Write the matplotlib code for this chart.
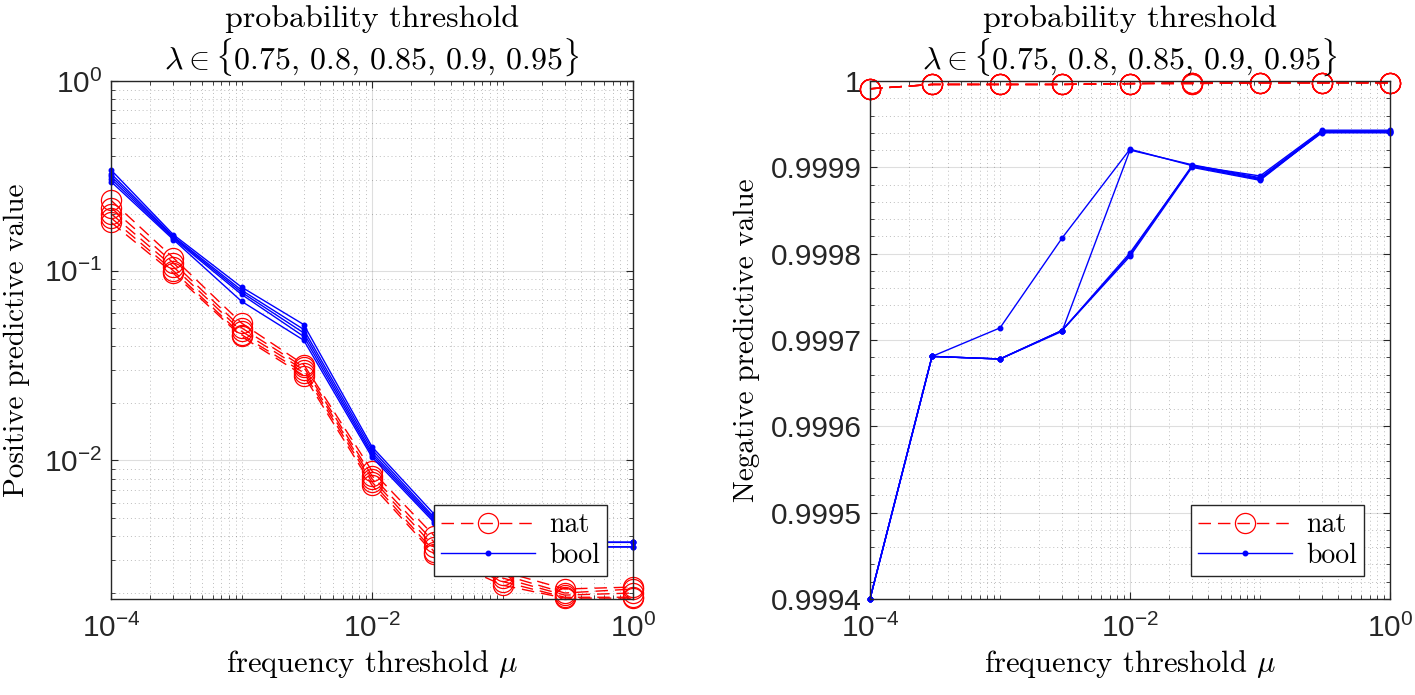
import numpy as np
import matplotlib
matplotlib.use("Agg")
import matplotlib.pyplot as plt
from matplotlib.ticker import LogLocator, MultipleLocator, FuncFormatter, NullFormatter

plt.rcParams['mathtext.fontset'] = 'custom'
plt.rcParams['mathtext.rm'] = 'Liberation Sans'
plt.rcParams['mathtext.it'] = 'Liberation Sans:italic'
plt.rcParams['font.family'] = 'Liberation Sans'

# frequency thresholds mu
mu = [1e-4, 3e-4, 1e-3, 3e-3, 1e-2, 3e-2, 1e-1, 3e-1, 1.0]
lambdas = [0.75, 0.8, 0.85, 0.9, 0.95]

# positive predictive value, one row per lambda
ppv_nat = [
    [0.235, 0.117, 0.053, 0.032, 0.0088, 0.0040, 0.0026, 0.00210, 0.00215],
    [0.215, 0.110, 0.050, 0.031, 0.0083, 0.0037, 0.0025, 0.00200, 0.00210],
    [0.200, 0.105, 0.048, 0.030, 0.0080, 0.0035, 0.0024, 0.00195, 0.00200],
    [0.190, 0.100, 0.046, 0.029, 0.0077, 0.0033, 0.0023, 0.00190, 0.00190],
    [0.180, 0.097, 0.045, 0.028, 0.0074, 0.0032, 0.0022, 0.00188, 0.00188],
]
ppv_bool = [
    [0.340, 0.155, 0.082, 0.052, 0.0118, 0.0052, 0.0039, 0.0037, 0.0037],
    [0.325, 0.152, 0.079, 0.049, 0.0114, 0.0050, 0.0038, 0.0037, 0.0037],
    [0.315, 0.150, 0.077, 0.047, 0.0110, 0.0049, 0.0038, 0.0037, 0.0037],
    [0.305, 0.148, 0.075, 0.045, 0.0107, 0.0048, 0.0037, 0.0035, 0.0035],
    [0.295, 0.146, 0.069, 0.043, 0.0104, 0.0047, 0.0036, 0.0035, 0.0035],
]

# negative predictive value, one row per lambda
npv_nat = [
    [0.999991, 0.999996, 0.999996, 0.999996, 0.999997, 0.999998, 0.999998, 0.999998, 0.999998],
    [0.999991, 0.999996, 0.999996, 0.999996, 0.999997, 0.999997, 0.999998, 0.999998, 0.999998],
    [0.999991, 0.999996, 0.999996, 0.999996, 0.999997, 0.999997, 0.999998, 0.999998, 0.999998],
    [0.999991, 0.999996, 0.999996, 0.999996, 0.999997, 0.999998, 0.999998, 0.999998, 0.999998],
    [0.999991, 0.999996, 0.999996, 0.999996, 0.999997, 0.999998, 0.999998, 0.999998, 0.999998],
]
npv_bool = [
    [0.99940, 0.999681, 0.999714, 0.999818, 0.999921, 0.999902, 0.999890, 0.999943, 0.999943],
    [0.99940, 0.999681, 0.999678, 0.999710, 0.999920, 0.999903, 0.999888, 0.999942, 0.999942],
    [0.99940, 0.999681, 0.999678, 0.999711, 0.999799, 0.999902, 0.999887, 0.999940, 0.999940],
    [0.99940, 0.999681, 0.999678, 0.999711, 0.999797, 0.999900, 0.999885, 0.999941, 0.999941],
    [0.99940, 0.999681, 0.999678, 0.999711, 0.999801, 0.999901, 0.999886, 0.999941, 0.999941],
]

title = 'probability threshold\n' + r'$\lambda \in \{0.75,\, 0.8,\, 0.85,\, 0.9,\, 0.95\}$'
SERIF = 'cmr10'
axcol = (0.15, 0.15, 0.15)
W, H = 1415, 695

fig = plt.figure(figsize=(14.15, 6.95), dpi=100)
ax1 = fig.add_axes([111 / W, 96 / H, 522 / W, 518 / H])
ax2 = fig.add_axes([870 / W, 96 / H, 520 / W, 518 / H])


def draw(ax, nat, boo):
    for row in nat:
        ax.plot(mu, row, color='red', ls=(0, (9, 5)), lw=1.0, marker='o', ms=14.5,
                mfc='none', mec='red', mew=0.9, label='nat', clip_on=False)
    for row in boo:
        ax.plot(mu, row, color='blue', ls='-', lw=1.0, marker='.', ms=6.5,
                label='bool', clip_on=False)
    ax.set_xscale('log')
    ax.set_xlim(1e-4, 1)
    ax.set_xticks([1e-4, 1e-2, 1])
    ax.xaxis.set_minor_locator(LogLocator(base=10, subs=np.arange(1, 10), numticks=20))
    ax.xaxis.set_minor_formatter(NullFormatter())
    ax.xaxis.set_major_formatter(FuncFormatter(lambda v, p: r'$10^{%d}$' % round(np.log10(v))))
    ax.grid(True, which='major', color=(0.15, 0.15, 0.15), alpha=0.15, lw=0.8)
    ax.grid(True, which='minor', color=(0.15, 0.15, 0.15), alpha=0.3, lw=0.7, ls=(0, (1, 3)))
    ax.tick_params(which='both', direction='in', top=True, right=True, colors=axcol,
                   labelcolor=(0.15, 0.15, 0.15), labelsize=21.5)
    ax.tick_params(which='major', length=5)
    ax.tick_params(which='minor', length=3)
    ax.tick_params(axis='x', which='major', pad=11)
    ax.tick_params(axis='y', which='major', pad=6)
    for s in ax.spines.values():
        s.set_color(axcol)
        s.set_linewidth(1.0)
    ax.set_title(title, fontsize=23, fontfamily=SERIF, math_fontfamily='cm', pad=9,
                 linespacing=1.1)
    ax.set_xlabel(r'frequency threshold $\mu$', fontsize=22, fontfamily=SERIF,
                  math_fontfamily='cm', labelpad=3)
    h, l = ax.get_legend_handles_labels()
    ax.legend([h[0], h[len(nat)]], ['nat', 'bool'], loc='lower right',
              bbox_to_anchor=(0.95, 0.045), prop={'family': SERIF, 'size': 20},
              fancybox=False, edgecolor=axcol, framealpha=1, handlelength=3.4,
              borderpad=0.25, labelspacing=0.15, handletextpad=0.5, borderaxespad=0)


draw(ax1, ppv_nat, ppv_bool)
ax1.set_yscale('log')
ax1.set_ylim(1.86e-3, 1)
ax1.yaxis.set_major_locator(LogLocator(base=10, subs=[1.0], numticks=10))
ax1.yaxis.set_minor_locator(LogLocator(base=10, subs=np.arange(2, 10), numticks=20))
ax1.yaxis.set_minor_formatter(NullFormatter())
ax1.yaxis.set_major_formatter(FuncFormatter(lambda v, p: r'$10^{%d}$' % round(np.log10(v))))
ax1.set_ylabel('Positive predictive value', fontsize=21, fontfamily=SERIF, labelpad=10)

draw(ax2, npv_nat, npv_bool)
ax2.set_ylim(0.9994, 1.0)
ax2.yaxis.set_major_locator(MultipleLocator(0.0001))
ax2.yaxis.set_minor_locator(MultipleLocator(0.00002))
ax2.yaxis.set_major_formatter(FuncFormatter(lambda v, p: ('%.4f' % v).rstrip('0').rstrip('.')))
ax2.set_ylabel('Negative predictive value', fontsize=21, fontfamily=SERIF, labelpad=8)

fig.savefig('out.png', dpi=100)
